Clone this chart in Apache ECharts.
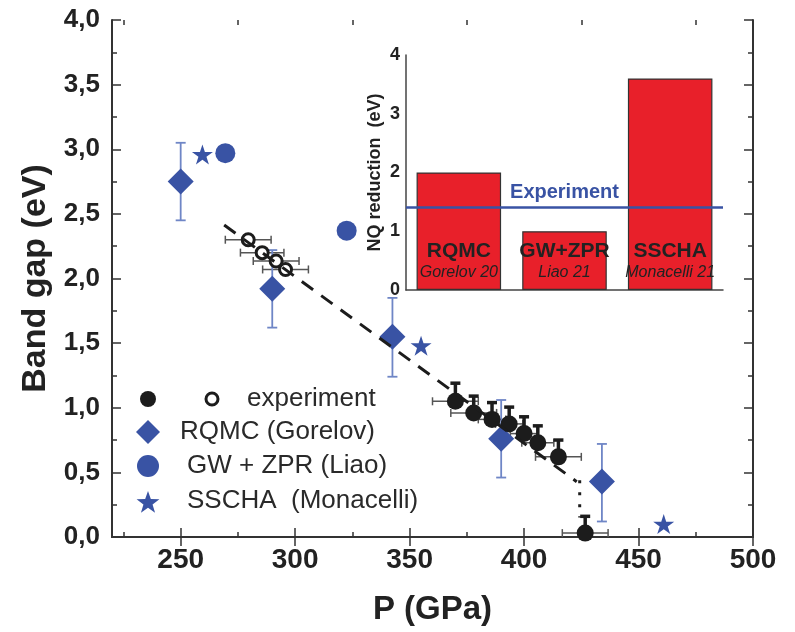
<!DOCTYPE html>
<html>
<head>
<meta charset="utf-8">
<script src="https://cdn.jsdelivr.net/npm/echarts@6/dist/echarts.min.js"></script>
<style>
  html, body { margin: 0; padding: 0; background: #fff; }
  #main { width: 795px; height: 632px; }
</style>
</head>
<body>
<div id="main"></div>
<script>
// ---- data ----
// RQMC (Gorelov): pressure, gap, error bar low/high
var rqmcP   = [250, 290, 342.5, 390, 434];
var rqmcGap = [2.75, 1.92, 1.55, 0.76, 0.43];
var rqmcLo  = [2.45, 1.62, 1.24, 0.46, 0.12];
var rqmcHi  = [3.05, 2.22, 1.85, 1.06, 0.72];
// GW + ZPR (Liao)
var gwP   = [269.5, 322.5];
var gwGap = [2.97, 2.37];
// SSCHA (Monacelli)
var sschaP   = [259.5, 355, 461];
var sschaGap = [2.96, 1.48, 0.10];
// experiment, open symbols
var openP    = [279.5, 285.6, 291.7, 295.8];
var openGap  = [2.30, 2.20, 2.135, 2.07];
var openPErr = [10, 9.5, 10, 10];
// experiment, filled symbols
var fillP      = [370, 378, 386, 393.5, 400, 406, 415, 426.7];
var fillGap    = [1.05, 0.96, 0.91, 0.875, 0.80, 0.73, 0.62, 0.03];
var fillPErr   = [10, 10, 6, 6, 6, 7, 10, 10];
var fillGapErr = [0.14, 0.13, 0.13, 0.13, 0.13, 0.13, 0.13, 0.13];
// dashed guide and dotted drop
var fitP   = [269, 423];
var fitGap = [2.414, 0.428];
var dropP   = [424.3, 424.3];
var dropGap = [0.44, 0.15];
// tick values of the P axis
var pTicks      = [250, 300, 350, 400, 450, 500];
var pMinorTicks = [225, 275, 325, 375, 425, 475];
// inset
var insetMethods = ['RQMC', 'GW+ZPR', 'SSCHA'];
var insetRefs    = ['Gorelov 20', 'Liao 21', 'Monacelli 21'];
var insetNQ      = [2.0, 1.0, 3.6];
var experimentNQ = 1.41;

var BLUE = '#3953a4';
var BLUE_ERR = '#6f86c6';
var INK = '#1c1c1c';
var AXIS = '#333';
var FONT = '"Liberation Sans", Arial, Helvetica, sans-serif';
var starPath = 'path://M50,0L61.2,34.5L97.6,34.5L68.2,55.9L79.4,90.5L50,69.1L20.6,90.5L31.8,55.9L2.4,34.5L38.8,34.5Z';

function zip2(a, b) { return a.map(function (v, i) { return [v, b[i]]; }); }

// vertical error bars: data [P, lo, hi]
function yErr(color, width, cap, bottomCap) {
  return function (params, api) {
    var top = api.coord([api.value(0), api.value(2)]);
    var bot = api.coord([api.value(0), api.value(1)]);
    var st = { stroke: color, lineWidth: width };
    var kids = [
      { type: 'line', shape: { x1: top[0], y1: top[1], x2: bot[0], y2: bot[1] }, style: st },
      { type: 'line', shape: { x1: top[0] - cap, y1: top[1], x2: top[0] + cap, y2: top[1] }, style: st }
    ];
    if (bottomCap) {
      kids.push({ type: 'line', shape: { x1: bot[0] - cap, y1: bot[1], x2: bot[0] + cap, y2: bot[1] }, style: st });
    }
    return { type: 'group', children: kids };
  };
}
// horizontal error bars: data [lo, hi, gap]
function xErr(color, width, cap) {
  return function (params, api) {
    var l = api.coord([api.value(0), api.value(2)]);
    var r = api.coord([api.value(1), api.value(2)]);
    var st = { stroke: color, lineWidth: width };
    return { type: 'group', children: [
      { type: 'line', shape: { x1: l[0], y1: l[1], x2: r[0], y2: r[1] }, style: st },
      { type: 'line', shape: { x1: l[0], y1: l[1] - cap, x2: l[0], y2: l[1] + cap }, style: st },
      { type: 'line', shape: { x1: r[0], y1: r[1] - cap, x2: r[0], y2: r[1] + cap }, style: st }
    ] };
  };
}

function starPoints(cx, cy, R) {
  var pts = [];
  for (var i = 0; i < 10; i++) {
    var r = i % 2 === 0 ? R : R * 0.4;
    var a = -Math.PI / 2 + i * Math.PI / 5;
    pts.push([cx + r * Math.cos(a), cy + r * Math.sin(a)]);
  }
  return pts;
}

var myChart = echarts.init(document.getElementById('main'), null, { renderer: 'canvas' });

var lineAx = { show: true, lineStyle: { color: AXIS, width: 2 } };

var option = {
  backgroundColor: '#fff',
  animation: false,
  textStyle: { fontFamily: FONT },
  grid: [
    { left: 112, right: 42, top: 20, bottom: 95, outerBoundsMode: 'none' },
    { left: 406, right: 72, top: 55, bottom: 342, outerBoundsMode: 'none' }
  ],
  xAxis: [
    { gridIndex: 0, type: 'value', min: 220, max: 500, position: 'bottom',
      axisLine: lineAx, splitLine: { show: false },
      axisTick: { inside: true, length: 9, customValues: pTicks, lineStyle: { color: AXIS, width: 1.5 } },
      axisLabel: { customValues: pTicks, margin: 9, color: '#222', fontSize: 28, fontWeight: 'bold', fontFamily: FONT },
      name: 'P (GPa)', nameLocation: 'middle', nameGap: 56,
      nameTextStyle: { fontSize: 33, fontWeight: 'bold', color: '#222', fontFamily: FONT } },
    { gridIndex: 0, type: 'value', min: 220, max: 500, position: 'top',
      axisLine: lineAx, splitLine: { show: false },
      axisTick: { inside: true, length: 9, customValues: pTicks, lineStyle: { color: AXIS, width: 1.5 } },
      axisLabel: { show: false } },
    { gridIndex: 0, type: 'value', min: 220, max: 500, position: 'bottom',
      axisLine: { show: false }, splitLine: { show: false },
      axisTick: { inside: true, length: 5, customValues: pMinorTicks, lineStyle: { color: AXIS, width: 1.5 } },
      axisLabel: { show: false } },
    { gridIndex: 0, type: 'value', min: 220, max: 500, position: 'top',
      axisLine: { show: false }, splitLine: { show: false },
      axisTick: { inside: true, length: 5, customValues: pMinorTicks, lineStyle: { color: AXIS, width: 1.5 } },
      axisLabel: { show: false } },
    { gridIndex: 1, type: 'category', data: insetMethods,
      axisLine: { show: true, lineStyle: { color: '#444', width: 1.5 } },
      axisTick: { inside: true, alignWithLabel: true, length: 4, lineStyle: { color: '#444' } },
      axisLabel: { show: false } }
  ],
  yAxis: [
    { gridIndex: 0, type: 'value', min: 0, max: 4, interval: 0.5, position: 'left',
      axisLine: lineAx, splitLine: { show: false },
      axisTick: { inside: true, length: 9, lineStyle: { color: AXIS, width: 1.5 } },
      minorTick: { show: true, splitNumber: 2, length: 5, lineStyle: { color: AXIS, width: 1.5 } },
      minorSplitLine: { show: false },
      axisLabel: { margin: 12, color: '#222', fontSize: 26, fontWeight: 'bold', fontFamily: FONT,
        formatter: function (v) { return v.toFixed(1).replace('.', ','); } },
      name: 'Band gap (eV)', nameLocation: 'middle', nameGap: 54,
      nameTextStyle: { fontSize: 34, fontWeight: 'bold', color: '#222', fontFamily: FONT } },
    { gridIndex: 0, type: 'value', min: 0, max: 4, interval: 0.5, position: 'right',
      axisLine: lineAx, splitLine: { show: false },
      axisTick: { inside: true, length: 9, lineStyle: { color: AXIS, width: 1.5 } },
      minorTick: { show: true, splitNumber: 2, length: 5, lineStyle: { color: AXIS, width: 1.5 } },
      axisLabel: { show: false } },
    { gridIndex: 1, type: 'value', min: 0, max: 4, interval: 1,
      axisLine: { show: true, lineStyle: { color: '#444', width: 1.5 } },
      splitLine: { show: false },
      axisTick: { inside: true, length: 5, lineStyle: { color: '#444' } },
      axisLabel: { margin: 6, color: '#222', fontSize: 18, fontWeight: 'bold', fontFamily: FONT },
      name: 'NQ reduction  (eV)', nameLocation: 'middle', nameGap: 22,
      nameTextStyle: { fontSize: 18, fontWeight: 'bold', color: '#222', fontFamily: FONT } }
  ],
  series: [
    { type: 'custom', name: 'expFillX', xAxisIndex: 0, yAxisIndex: 0,
      renderItem: xErr('#555', 1.5, 4),
      data: fillP.map(function (p, i) { return [p - fillPErr[i], p + fillPErr[i], fillGap[i]]; }) },
    { type: 'custom', name: 'expOpenX', xAxisIndex: 0, yAxisIndex: 0,
      renderItem: xErr('#555', 1.5, 4),
      data: openP.map(function (p, i) { return [p - openPErr[i], p + openPErr[i], openGap[i]]; }) },
    { type: 'custom', name: 'expFillY', xAxisIndex: 0, yAxisIndex: 0,
      renderItem: yErr(INK, 3.5, 5, false),
      data: fillP.map(function (p, i) { return [p, fillGap[i], fillGap[i] + fillGapErr[i]]; }) },
    { type: 'scatter', name: 'experiment', xAxisIndex: 0, yAxisIndex: 0,
      symbol: 'circle', symbolSize: 17, itemStyle: { color: INK, opacity: 1 },
      data: zip2(fillP, fillGap) },
    { type: 'scatter', name: 'experiment open', xAxisIndex: 0, yAxisIndex: 0,
      symbol: 'circle', symbolSize: 12, itemStyle: { color: '#fff', borderColor: INK, borderWidth: 3, opacity: 1 },
      data: zip2(openP, openGap) },
    { type: 'line', name: 'fit', xAxisIndex: 0, yAxisIndex: 0, showSymbol: false, symbol: 'none',
      lineStyle: { color: INK, width: 3, type: [14, 10] },
      data: zip2(fitP, fitGap) },
    { type: 'line', name: 'drop', xAxisIndex: 0, yAxisIndex: 0, showSymbol: false, symbol: 'none',
      lineStyle: { color: INK, width: 3, type: [3, 9] },
      data: zip2(dropP, dropGap) },
    { type: 'custom', name: 'rqmcErr', xAxisIndex: 0, yAxisIndex: 0,
      renderItem: yErr(BLUE_ERR, 1.8, 5, true),
      data: rqmcP.map(function (p, i) { return [p, rqmcLo[i], rqmcHi[i]]; }) },
    { type: 'scatter', name: 'RQMC (Gorelov)', xAxisIndex: 0, yAxisIndex: 0,
      symbol: 'diamond', symbolSize: 26, itemStyle: { color: BLUE, opacity: 1 },
      data: zip2(rqmcP, rqmcGap) },
    { type: 'scatter', name: 'GW + ZPR (Liao)', xAxisIndex: 0, yAxisIndex: 0,
      symbol: 'circle', symbolSize: 20, itemStyle: { color: BLUE, opacity: 1 },
      data: zip2(gwP, gwGap) },
    { type: 'scatter', name: 'SSCHA (Monacelli)', xAxisIndex: 0, yAxisIndex: 0,
      symbol: starPath, symbolKeepAspect: true, symbolSize: 21, itemStyle: { color: BLUE, opacity: 1 },
      data: zip2(sschaP, sschaGap) },
    { type: 'bar', name: 'NQ reduction', xAxisIndex: 4, yAxisIndex: 2,
      barWidth: '80%',
      itemStyle: { color: '#e8202a', borderColor: '#333', borderWidth: 1.2 },
      label: { show: true, position: 'insideBottom', distance: 7,
        formatter: function (p) {
          return '{m|' + insetMethods[p.dataIndex] + '}\n{r|' + insetRefs[p.dataIndex] + '}';
        },
        rich: {
          m: { fontSize: 21, fontWeight: 'bold', color: '#222', lineHeight: 24, fontFamily: FONT },
          r: { fontSize: 16, fontStyle: 'italic', color: '#222', lineHeight: 20, fontFamily: FONT }
        } },
      data: insetNQ,
      markLine: { silent: true, symbol: 'none',
        lineStyle: { color: BLUE, width: 2.5, type: 'solid' },
        label: { show: true, position: 'middle', distance: 5, formatter: 'Experiment',
          color: BLUE, fontSize: 20, fontWeight: 'bold', fontFamily: FONT },
        data: [{ yAxis: experimentNQ }] } }
  ],
  graphic: [
    { type: 'circle', shape: { cx: 148, cy: 399, r: 8 }, style: { fill: INK } },
    { type: 'circle', shape: { cx: 212, cy: 399, r: 6 }, style: { fill: '#fff', stroke: INK, lineWidth: 3 } },
    { type: 'text', style: { x: 247, y: 399, text: 'experiment', font: '26px ' + FONT, fill: '#2a2a2a', verticalAlign: 'middle', textVerticalAlign: 'middle' } },
    { type: 'polygon', shape: { points: [[148, 420], [160, 432], [148, 444], [136, 432]] }, style: { fill: BLUE } },
    { type: 'text', style: { x: 180, y: 432, text: 'RQMC (Gorelov)', font: '26px ' + FONT, fill: '#2a2a2a', verticalAlign: 'middle', textVerticalAlign: 'middle' } },
    { type: 'circle', shape: { cx: 148, cy: 466, r: 11 }, style: { fill: BLUE } },
    { type: 'text', style: { x: 187, y: 466, text: 'GW + ZPR (Liao)', font: '26px ' + FONT, fill: '#2a2a2a', verticalAlign: 'middle', textVerticalAlign: 'middle' } },
    { type: 'polygon', shape: { points: starPoints(148, 503, 12) }, style: { fill: BLUE } },
    { type: 'text', style: { x: 187, y: 501, text: 'SSCHA  (Monacelli)', font: '26px ' + FONT, fill: '#2a2a2a', verticalAlign: 'middle', textVerticalAlign: 'middle' } }
  ]
};

myChart.setOption(option);
</script>
</body>
</html>
